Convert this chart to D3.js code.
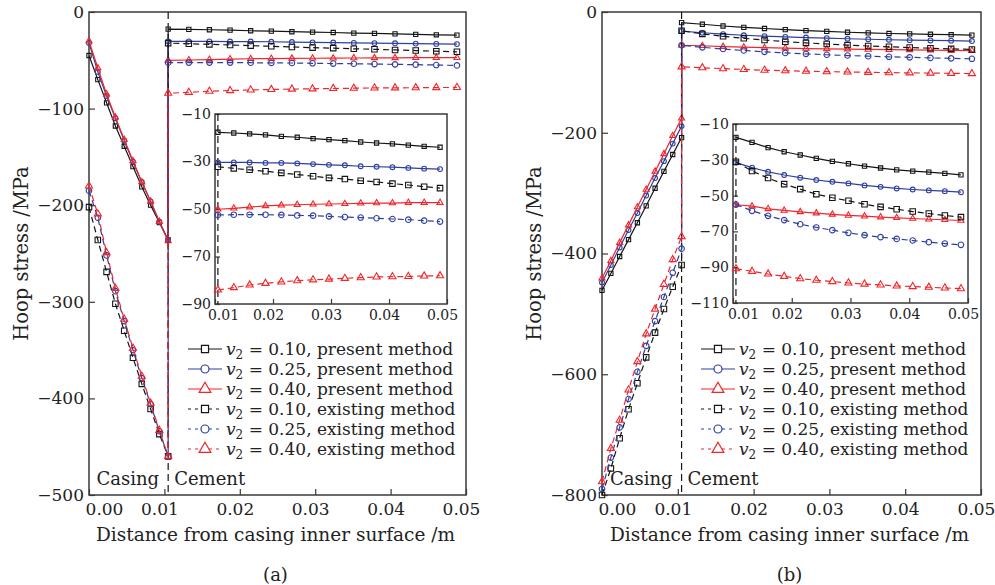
<!DOCTYPE html>
<html>
<head>
<meta charset="utf-8">
<script src="https://cdn.jsdelivr.net/npm/d3@7"></script>
<style>
  body { margin: 0; background: #fff; }
  svg text { font-family: "DejaVu Serif", serif; fill: #222; }
</style>
</head>
<body>
<div id="chart"></div>
<script>
// x positions (m) of the computed points
const xCasing = [0, 0.00117, 0.00233, 0.0035, 0.00467, 0.00583, 0.007, 0.00817, 0.00933, 0.0105]
const xCement = [0.0105, 0.01324, 0.01597, 0.01871, 0.02144, 0.02418, 0.02691, 0.02965, 0.03239, 0.03512, 0.03786, 0.04059, 0.04333, 0.04606, 0.0488]
const interfaceX = 0.0105

const xTicks = [0, 0.01, 0.02, 0.03, 0.04, 0.05]
const insetXTicks = [0.01, 0.02, 0.03, 0.04, 0.05]
const aYTicks = [0, -100, -200, -300, -400, -500]
const aInsetYTicks = [-10, -30, -50, -70, -90]
const bYTicks = [0, -200, -400, -600, -800]
const bInsetYTicks = [-10, -30, -50, -70, -90, -110]

const legendLabels = ["0.10, present method", "0.25, present method", "0.40, present method",
  "0.10, existing method", "0.25, existing method", "0.40, existing method"]

// panel (a) hoop stress, MPa
const aCasingP10 = [-45, -70, -94, -118, -139, -160, -181, -200, -218, -236]
const aCasingP25 = [-32, -62, -87, -110, -133, -155, -176, -196, -217, -236]
const aCasingP40 = [-30, -58, -85, -109, -132, -154, -176, -196, -217, -237]
const aCasingE10 = [-202, -236, -269, -302, -330, -358, -385, -411, -437, -460]
const aCasingE25 = [-185, -213, -252, -289, -320, -350, -379, -406, -434, -460]
const aCasingE40 = [-180, -209, -249, -286, -318, -348, -377, -405, -433, -460]
const aCementP10 = [-17.7, -18.0, -18.4, -18.8, -19.4, -19.8, -20.4, -20.8, -21.2, -21.8, -22.2, -22.6, -23.1, -23.6, -24.0]
const aCementP25 = [-30.4, -30.4, -30.4, -30.6, -30.6, -30.8, -31.1, -31.4, -31.6, -32.0, -32.2, -32.4, -32.7, -33.0, -33.2]
const aCementP40 = [-50.1, -49.7, -49.2, -48.7, -48.4, -48.2, -48.0, -47.9, -47.8, -47.6, -47.5, -47.5, -47.3, -47.3, -47.3]
const aCementE10 = [-32.2, -32.9, -33.5, -34.1, -34.8, -35.5, -36.2, -36.9, -37.4, -38.1, -38.6, -39.3, -39.9, -40.6, -41.2]
const aCementE25 = [-52.5, -52.4, -52.4, -52.4, -52.5, -52.7, -52.8, -53.1, -53.4, -53.6, -53.9, -54.2, -54.5, -54.9, -55.3]
const aCementE40 = [-84.1, -83.1, -82.0, -81.3, -80.7, -80.2, -79.8, -79.5, -79.2, -78.9, -78.6, -78.5, -78.4, -78.2, -78.1]

// panel (b) hoop stress, MPa
const bCasingP10 = [-461, -433, -405, -377, -349, -321, -292, -264, -236, -208]
const bCasingP25 = [-448, -419, -390, -361, -333, -304, -275, -247, -218, -189]
const bCasingP40 = [-441, -412, -382, -353, -323, -294, -264, -235, -205, -176]
const bCasingE10 = [-800, -756, -706, -658, -615, -572, -531, -492, -455, -419]
const bCasingE25 = [-790, -738, -688, -641, -596, -553, -512, -472, -432, -392]
const bCasingE40 = [-778, -723, -676, -626, -579, -533, -492, -451, -410, -372]
const bCementP10 = [-17.5, -20.3, -23.2, -25.5, -27.3, -29.2, -30.9, -32.2, -33.5, -34.6, -35.6, -36.3, -36.9, -37.6, -38.4]
const bCementP25 = [-31.6, -34.4, -36.7, -38.5, -40.0, -41.3, -42.3, -43.2, -44.3, -45.1, -46.0, -46.6, -47.1, -47.5, -48.1]
const bCementP40 = [-55.1, -55.9, -57.4, -58.3, -59.1, -59.8, -60.5, -61.1, -61.5, -62.0, -62.4, -62.8, -63.2, -63.5, -63.9]
const bCementE10 = [-31.1, -36.3, -40.2, -43.6, -46.4, -49.2, -51.2, -52.9, -54.8, -56.3, -57.6, -58.9, -60.0, -61.1, -62.0]
const bCementE25 = [-55.0, -58.5, -61.3, -63.7, -66.0, -67.8, -69.3, -70.8, -72.1, -73.2, -74.2, -75.1, -76.0, -76.8, -77.5]
const bCementE40 = [-90.8, -92.3, -93.8, -95.1, -96.4, -97.3, -98.0, -98.8, -99.4, -99.9, -100.5, -100.8, -101.2, -101.6, -102.0]

// ----------------------------------------------------------

const black = "#151515", blue = "#2f3f9e", red = "#f0262b", frameColor = "#3a3a3a"

const styles = [
  { color: black, dashed: false, sym: d3.symbolSquare, size: 18 },
  { color: blue, dashed: false, sym: d3.symbolCircle, size: 18 },
  { color: red, dashed: false, sym: d3.symbolTriangle, size: 16 },
  { color: black, dashed: true, sym: d3.symbolSquare, size: 30 },
  { color: blue, dashed: true, sym: d3.symbolCircle, size: 24 },
  { color: red, dashed: true, sym: d3.symbolTriangle, size: 22 }
]

const panels = [
  {
    left: 89, right: 466, top: 12, bottom: 495, yDomain: [-500, 0], yTicks: aYTicks,
    inset: { left: 215, right: 447, top: 114, bottom: 304, yDomain: [-90, -10], yTicks: aInsetYTicks, firstDx: 8 },
    casing: [aCasingP10, aCasingP25, aCasingP40, aCasingE10, aCasingE25, aCasingE40],
    cement: [aCementP10, aCementP25, aCementP40, aCementE10, aCementE25, aCementE40],
    legendX: 188, legendY: 349, titleX: 28, caption: "(a)"
  },
  {
    left: 602, right: 981, top: 12, bottom: 495, yDomain: [-800, 0], yTicks: bYTicks,
    inset: { left: 733, right: 968, top: 124, bottom: 303, yDomain: [-110, -10], yTicks: bInsetYTicks, firstDx: 10 },
    casing: [bCasingP10, bCasingP25, bCasingP40, bCasingE10, bCasingE25, bCasingE40],
    cement: [bCementP10, bCementP25, bCementP40, bCementE10, bCementE25, bCementE40],
    legendX: 701, legendY: 349, titleX: 541, caption: "(b)"
  }
]

var svg = d3.select("#chart").append("svg")
  .attr("width", 995).attr("height", 585)

function styleAxis(g, size) {
  g.select(".domain").remove()
  g.selectAll("line").attr("stroke", frameColor).attr("stroke-width", 1.2)
  g.selectAll("text").attr("font-size", size).attr("font-family", "DejaVu Serif").attr("fill", "#222")
}

function drawSeries(g, x, y, xs, ys, st, lineDash) {
  const pts = xs.map((d, i) => [d, ys[i]])
  g.append("path").datum(pts)
    .attr("fill", "none")
    .attr("stroke", st.color)
    .attr("stroke-width", 1.2)
    .attr("stroke-dasharray", st.dashed ? lineDash : null)
    .attr("d", d3.line().x(d => x(d[0])).y(d => y(d[1])))
  g.selectAll(null).data(pts).enter().append("path")
    .attr("transform", d => "translate(" + x(d[0]) + "," + y(d[1]) + ")")
    .attr("d", d3.symbol().type(st.sym).size(st.size))
    .attr("fill", "none")
    .attr("stroke", st.color)
    .attr("stroke-width", 1.1)
}

panels.forEach(p => {
  const g = svg.append("g")
  const x = d3.scaleLinear().domain([0, 0.05]).range([p.left, p.right])
  const y = d3.scaleLinear().domain(p.yDomain).range([p.bottom, p.top])

  // axes with inward ticks
  const xg = g.append("g").attr("transform", "translate(0," + p.bottom + ")")
    .call(d3.axisBottom(x).tickValues(xTicks).tickFormat(d3.format(".2f")).tickSize(-6).tickPadding(8))
  styleAxis(xg, 17)
  xg.selectAll("text").attr("dx", d => d == 0 ? 15 : -5)

  const yg = g.append("g").attr("transform", "translate(" + p.left + ",0)")
    .call(d3.axisLeft(y).tickValues(p.yTicks).tickSize(-6).tickPadding(5))
  styleAxis(yg, 17)

  g.append("rect")
    .attr("x", p.left).attr("y", p.top)
    .attr("width", p.right - p.left).attr("height", p.bottom - p.top)
    .attr("fill", "none").attr("stroke", frameColor).attr("stroke-width", 1.5)

  // casing / cement interface
  g.append("line")
    .attr("x1", x(interfaceX)).attr("x2", x(interfaceX))
    .attr("y1", p.top).attr("y2", p.bottom)
    .attr("stroke", black).attr("stroke-width", 1.2).attr("stroke-dasharray", "7,4")

  styles.forEach((st, i) => {
    drawSeries(g, x, y, xCasing.concat(xCement), p.casing[i].concat(p.cement[i]), st, "6,4")
  })

  g.append("text").attr("x", x(interfaceX) - 9).attr("y", 485)
    .attr("text-anchor", "end").attr("font-size", 18).text("Casing")
  g.append("text").attr("x", x(interfaceX) + 6).attr("y", 485)
    .attr("font-size", 18).text("Cement")

  // inset
  const ins = p.inset
  const ix = d3.scaleLinear().domain([0.01, 0.05]).range([ins.left, ins.right])
  const iy = d3.scaleLinear().domain(ins.yDomain).range([ins.bottom, ins.top])
  g.append("rect")
    .attr("x", ins.left).attr("y", ins.top)
    .attr("width", ins.right - ins.left).attr("height", ins.bottom - ins.top)
    .attr("fill", "#fff")
  const ixg = g.append("g").attr("transform", "translate(0," + ins.bottom + ")")
    .call(d3.axisBottom(ix).tickValues(insetXTicks).tickFormat(d3.format(".2f")).tickSize(-5).tickPadding(6))
  styleAxis(ixg, 14)
  ixg.selectAll("text").attr("dx", d => d == 0.01 ? ins.firstDx : -5)
  const iyg = g.append("g").attr("transform", "translate(" + ins.left + ",0)")
    .call(d3.axisLeft(iy).tickValues(ins.yTicks).tickSize(-5).tickPadding(4))
  styleAxis(iyg, 14)
  g.append("rect")
    .attr("x", ins.left).attr("y", ins.top)
    .attr("width", ins.right - ins.left).attr("height", ins.bottom - ins.top)
    .attr("fill", "none").attr("stroke", frameColor).attr("stroke-width", 1.5)
  g.append("line")
    .attr("x1", ix(interfaceX)).attr("x2", ix(interfaceX))
    .attr("y1", ins.top).attr("y2", ins.bottom)
    .attr("stroke", black).attr("stroke-width", 1.2).attr("stroke-dasharray", "7,4")
  styles.forEach((st, i) => {
    drawSeries(g, ix, iy, xCement, p.cement[i], st, "6,4")
  })

  // legend
  styles.forEach((st, i) => {
    const ly = p.legendY + i * 20
    const lg = g.append("g")
    lg.append("line")
      .attr("x1", p.legendX).attr("x2", p.legendX + 34)
      .attr("y1", ly).attr("y2", ly)
      .attr("stroke", st.color).attr("stroke-width", 1.2)
      .attr("stroke-dasharray", st.dashed ? "3,4" : null)
    lg.append("path")
      .attr("transform", "translate(" + (p.legendX + 17) + "," + ly + ")")
      .attr("d", d3.symbol().type(st.sym).size(st.sym == d3.symbolTriangle ? 60 : 50))
      .attr("fill", "#fff").attr("stroke", st.color).attr("stroke-width", 1.2)
    const t = lg.append("text").attr("x", p.legendX + 38).attr("y", ly + 6).attr("font-size", 17)
    t.append("tspan").attr("font-style", "italic").text("v")
    t.append("tspan").attr("font-size", 12).attr("dy", 4).text("2")
    t.append("tspan").attr("dy", -4).text(" = " + legendLabels[i])
  })

  // titles
  g.append("text")
    .attr("x", (p.left + p.right) / 2 - 2).attr("y", 541)
    .attr("text-anchor", "middle").attr("font-size", 18.5)
    .text("Distance from casing inner surface /m")
  g.append("text")
    .attr("transform", "translate(" + p.titleX + "," + ((p.top + p.bottom) / 2) + ") rotate(-90)")
    .attr("text-anchor", "middle").attr("font-size", 19.5)
    .text("Hoop stress /MPa")
  g.append("text")
    .attr("x", (p.left + p.right) / 2 - 2).attr("y", 581)
    .attr("text-anchor", "middle").attr("font-size", 18)
    .text(p.caption)
})
</script>
</body>
</html>
